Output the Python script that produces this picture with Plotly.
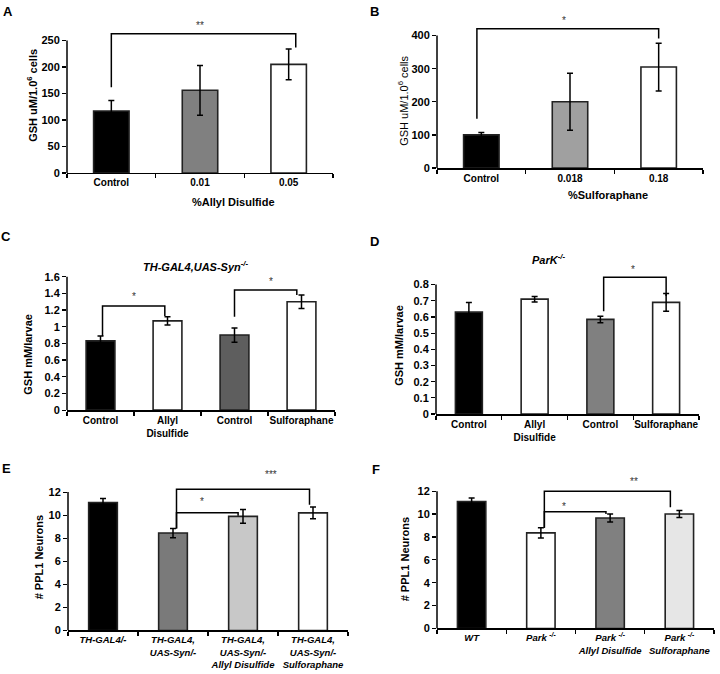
import plotly.graph_objects as go

W, H = 720, 674
FONT = "Liberation Sans"

# ---------------- data ----------------
a_cats = ["Control", "0.01", "0.05"]
a_vals = [117, 156, 205]
a_err = [20, 47, 29]
a_colors = ["#000000", "#808080", "#ffffff"]

b_cats = ["Control", "0.018", "0.18"]
b_vals = [100, 200, 305]
b_err = [7, 86, 72]
b_colors = ["#000000", "#a0a0a0", "#ffffff"]

c_cats = ["Control", "Allyl<br>Disulfide", "Control", "Sulforaphane"]
c_vals = [0.83, 1.07, 0.90, 1.30]
c_err = [0.06, 0.05, 0.085, 0.08]
c_colors = ["#000000", "#ffffff", "#5e5e5e", "#ffffff"]

d_cats = ["Control", "Allyl<br>Disulfide", "Control", "Sulforaphane"]
d_vals = [0.63, 0.71, 0.585, 0.69]
d_err = [0.06, 0.017, 0.02, 0.055]
d_colors = ["#000000", "#ffffff", "#808080", "#ffffff"]

e_cats = ["TH-GAL4/-", "TH-GAL4,<br>UAS-Syn/-", "TH-GAL4,<br>UAS-Syn/-<br>Allyl Disulfide",
          "TH-GAL4,<br>UAS-Syn/-<br>Sulforaphane"]
e_vals = [11.1, 8.45, 9.9, 10.2]
e_err = [0.35, 0.4, 0.6, 0.5]
e_colors = ["#000000", "#7a7a7a", "#c8c8c8", "#ffffff"]

f_cats = ["WT", "Park <sup>-/-</sup>", "Park <sup>-/-</sup><br>Allyl Disulfide",
          "Park <sup>-/-</sup><br>Sulforaphane"]
f_vals = [11.1, 8.35, 9.65, 10.0]
f_err = [0.3, 0.45, 0.35, 0.3]
f_colors = ["#000000", "#ffffff", "#808080", "#e6e6e6"]

# significance brackets: (from index, to index, top, left end, right end, label, label x, label y)
a_sig = [(0, 2.08, 263, 162, 237, "**", 1.0, 279)]
b_sig = [(-0.05, 2, 421, 149, 391, "*", 0.93, 445)]
c_sig = [(0.03, 0.96, 1.25, 0.89, 1.13, "*", 0.5, 1.36), (2, 2.93, 1.44, 1.12, 1.38, "*", 2.55, 1.54)]
d_sig = [(2.05, 3, 0.845, 0.635, 0.73, "*", 2.5, 0.895)]
e_sig = [(1.05, 1.93, 10.2, 8.85, 9.95, "*", 1.42, 11.2), (1.05, 2.95, 12.25, 8.85, 10.9, "***", 2.4, 13.5)]
f_sig = [(1.05, 1.94, 10.2, 8.8, 10.0, "*", 1.33, 10.7), (1.05, 2.87, 12.0, 8.8, 10.6, "**", 2.34, 12.8)]

# ---------------- layout helpers ----------------
def px(x):
    return x / W

def py(y):
    return 1 - y / H

panels = [
    # cats, vals, err, colors, sig, x px domain, y px (axis top, bottom), axis max, range top, dtick, italic, barwidth, label size
    (a_cats, a_vals, a_err, a_colors, a_sig, (67, 333), (39, 173), 250, 290, 50, False, 0.4, 10),
    (b_cats, b_vals, b_err, b_colors, b_sig, (437, 703), (34, 168), 400, 460, 100, False, 0.4, 10),
    (c_cats, c_vals, c_err, c_colors, c_sig, (67, 335), (278, 413), 1.6, 1.65, 0.2, False, 0.43, 10),
    (d_cats, d_vals, d_err, d_colors, d_sig, (436, 699), (286, 417), 0.8, 0.92, 0.1, False, 0.41, 10),
    (e_cats, e_vals, e_err, e_colors, e_sig, (68, 348), (496, 636), 12, 14, 2, True, 0.41, 9.5),
    (f_cats, f_vals, f_err, f_colors, f_sig, (437, 714), (495, 634), 12, 13.5, 2, True, 0.41, 9.5),
]

fig = go.Figure()
annotations = []
shapes = []
layout = {}

for k, (cats, vals, err, colors, sig, xd, yd, ymax, ytop, dt, ital, bw, lsz) in enumerate(panels):
    n = k + 1
    xa = "x" if n == 1 else f"x{n}"
    ya = "y" if n == 1 else f"y{n}"
    pos = list(range(len(cats)))
    fig.add_trace(go.Bar(
        x=pos, y=vals, width=bw,
        marker=dict(color=colors, line=dict(color="#222222", width=1.6)),
        error_y=dict(type="data", array=err, visible=True, color="#000000", thickness=1.5, width=3),
        xaxis=xa, yaxis=ya, showlegend=False, hoverinfo="skip",
    ))
    for (i, j, top, yl, yr, lab, lx, ly) in sig:
        fig.add_trace(go.Scatter(
            x=[i, i, j, j], y=[yl, top, top, yr], mode="lines",
            line=dict(color="#000000", width=1.5), xaxis=xa, yaxis=ya,
            showlegend=False, hoverinfo="skip",
        ))
        annotations.append(dict(
            x=lx, y=ly, xref=xa, yref=ya, text=lab, showarrow=False,
            xanchor="center", yanchor="middle",
            font=dict(family=FONT, size=10, color="#333333"),
        ))
    xkey = "xaxis" if n == 1 else f"xaxis{n}"
    ykey = "yaxis" if n == 1 else f"yaxis{n}"
    ybot, yaxtop = yd[1], yd[0]
    ext_top = ybot - (ybot - yaxtop) * ytop / ymax
    layout[xkey] = dict(
        domain=[px(xd[0]), px(xd[1])], anchor=ya, range=[-0.5, len(cats) - 0.5],
        tickmode="array", tickvals=pos, ticktext=cats, ticks="", tickangle=0,
        minor=dict(tickmode="array", tickvals=[p - 0.5 for p in range(len(cats) + 1)],
                   ticks="outside", ticklen=4, tickwidth=1.2, tickcolor="#000000", showgrid=False),
        showline=True, linecolor="#000000", linewidth=1.5,
        tickfont=dict(family=FONT, size=lsz, color="#000000", weight="bold",
                      style="italic" if ital else "normal"),
        showgrid=False, zeroline=False, fixedrange=True,
    )
    nt = int(round(ymax / dt))
    layout[ykey] = dict(
        domain=[py(ybot), py(ext_top)], anchor=xa, range=[0, ytop],
        tickmode="array", tickvals=[round(dt * t, 4) for t in range(nt + 1)],
        showline=False,
        ticks="outside", ticklen=4, tickwidth=1.2, tickcolor="#000000",
        tickfont=dict(family=FONT, size=11, color="#000000", weight="bold"),
        showgrid=False, zeroline=False, fixedrange=True,
    )
    shapes.append(dict(type="line", xref=f"{xa} domain", yref=ya, x0=0, x1=0, y0=0, y1=ymax,
                       line=dict(color="#000000", width=1.5)))

def ann(text, x, y, size=11, bold=True, italic=False, angle=0):
    annotations.append(dict(
        text=text, x=px(x), y=py(y), xref="paper", yref="paper", showarrow=False,
        textangle=angle, xanchor="center", yanchor="middle",
        font=dict(family=FONT, size=size, color="#000000",
                  weight="bold" if bold else "normal", style="italic" if italic else "normal"),
    ))

# panel letters
ann("A", 8, 10, size=13)
ann("B", 374, 10, size=13)
ann("C", 6, 237, size=13)
ann("D", 374, 242, size=13)
ann("E", 6, 472, size=13)
ann("F", 376, 473, size=13)

# axis titles
ann("GSH uM/1.0<sup>6</sup> cells", 32, 95, angle=-90)
ann("GSH uM/1.0<sup>6</sup> cells", 403, 100, bold=False, angle=-90)
ann("GSH mM/larvae", 28, 357, angle=-90)
ann("GSH mM/larvae", 399, 348, angle=-90)
ann("# PPL1 Neurons", 39, 562, angle=-90)
ann("# PPL1 Neurons", 405, 564, angle=-90)
ann("%Allyl Disulfide", 233, 202)
ann("%Sulforaphane", 608, 195)
ann("TH-GAL4,UAS-Syn<sup>-/-</sup>", 195, 267, italic=True)
ann("ParK<sup>-/-</sup>", 548, 260, italic=True)

fig.update_layout(
    width=W, height=H, margin=dict(l=0, r=0, t=0, b=0),
    paper_bgcolor="#ffffff", plot_bgcolor="rgba(0,0,0,0)",
    annotations=annotations, shapes=shapes,
    font=dict(family=FONT, color="#000000"),
    **layout,
)

fig.write_html("out.html", config={"displayModeBar": False, "staticPlot": True},
               post_script="document.body.style.margin='0px';document.body.style.overflow='hidden';")
